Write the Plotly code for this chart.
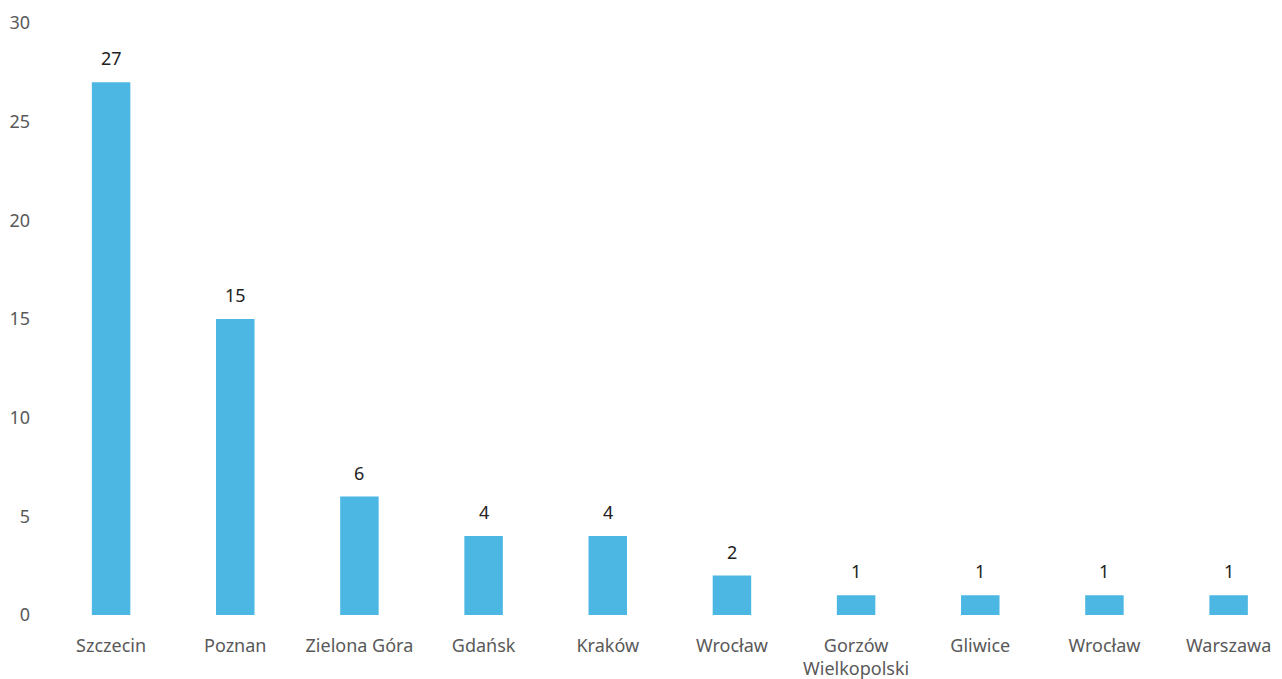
import plotly.graph_objects as go

categories = ["Szczecin", "Poznan", "Zielona Góra", "Gdańsk", "Kraków", "Wrocław",
              "Gorzów<br>Wielkopolski", "Gliwice", "Wrocław", "Warszawa"]
values = [27, 15, 6, 4, 4, 2, 1, 1, 1, 1]
y_ticks = [0, 5, 10, 15, 20, 25, 30]

positions = list(range(len(categories)))

fig = go.Figure(go.Bar(
    x=positions,
    y=values,
    width=0.31,
    marker=dict(color="#4DB7E4", line=dict(width=0)),
    cliponaxis=False,
))

for p, v in zip(positions, values):
    fig.add_annotation(
        x=p, y=v, text=str(v), showarrow=False,
        yanchor="bottom", yshift=10,
        font=dict(family="Noto Sans", size=18, color="#222222"),
    )

fig.update_layout(
    width=1274, height=671,
    margin=dict(l=41, r=0, t=15, b=64),
    paper_bgcolor="white", plot_bgcolor="white",
    showlegend=False,
    font=dict(family="Noto Sans", size=18, color="#595959"),
    xaxis=dict(
        range=[-0.5, 9.43],
        tickmode="array", tickvals=positions, ticktext=categories,
        showgrid=False, zeroline=False, showline=False, ticks="",
        ticklabelstandoff=18,
        tickfont=dict(family="Noto Sans", size=18, color="#595959"),
    ),
    yaxis=dict(
        range=[0, 30], tickmode="array", tickvals=y_ticks,
        showgrid=False, zeroline=False, showline=False, ticks="",
        ticklabelstandoff=18,
        tickfont=dict(family="Noto Sans", size=18, color="#595959"),
    ),
)

fig.write_html("out.html")
